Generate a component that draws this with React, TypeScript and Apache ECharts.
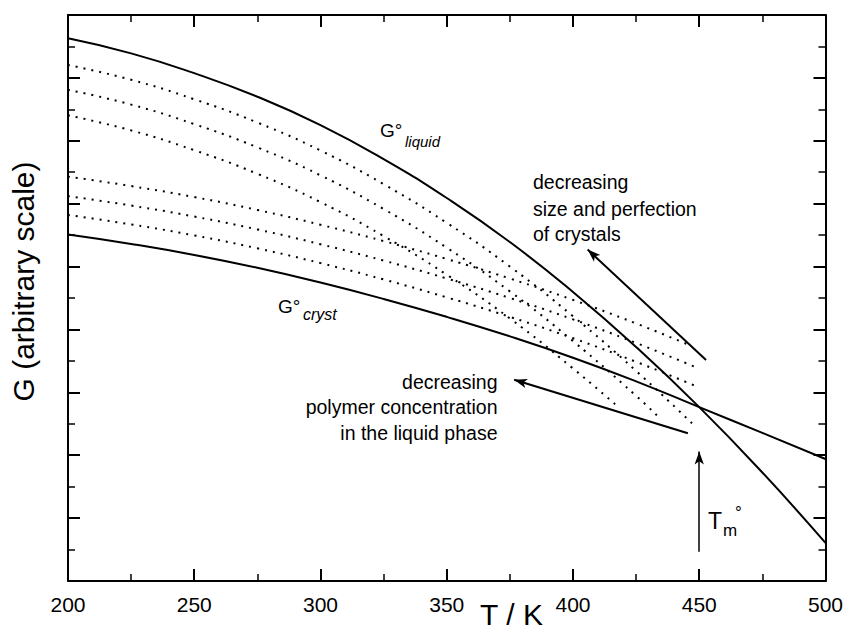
import { useEffect, useRef } from "react";
import * as echarts from "echarts";

// ---- data ----
const temps = [200, 225, 250, 275, 300, 325, 350, 375, 400, 425, 450, 475, 500];
const liquidG = [17.26, 16.78, 16.15, 15.4, 14.5, 13.42, 12.18, 10.78, 9.19, 7.44, 5.53, 3.45, 1.21];
const crystG = [11.02, 10.72, 10.37, 9.96, 9.49, 8.97, 8.4, 7.78, 7.1, 6.35, 5.53, 4.71, 3.88];

// liquid phase, decreasing polymer concentration (dotted)
const liqDot1T = [200, 225, 250, 275, 300, 325, 350, 375, 400, 425, 447.7];
const liqDot1 = [16.41, 15.94, 15.32, 14.58, 13.69, 12.62, 11.39, 10.0, 8.42, 6.68, 4.97];
const liqDot2T = [200, 225, 250, 275, 300, 325, 350, 375, 400, 425, 434.7];
const liqDot2 = [15.62, 15.15, 14.53, 13.79, 12.9, 11.83, 10.6, 9.21, 7.63, 5.89, 5.15];
const liqDot3T = [200, 225, 250, 275, 300, 325, 350, 375, 400, 418.4];
const liqDot3 = [14.81, 14.33, 13.7, 12.95, 12.05, 10.97, 9.74, 8.35, 6.76, 5.5];

// crystals of decreasing size and perfection (dotted)
const crysDot1T = [200, 225, 250, 275, 300, 325, 350, 375, 400, 425, 445];
const crysDot1 = [12.86, 12.56, 12.21, 11.8, 11.33, 10.81, 10.24, 9.62, 8.94, 8.19, 7.54];
const crysDot2T = [200, 225, 250, 275, 300, 325, 350, 375, 400, 425, 448];
const crysDot2 = [12.24, 11.94, 11.59, 11.18, 10.71, 10.19, 9.62, 9.0, 8.32, 7.57, 6.82];
const crysDot3T = [200, 225, 250, 275, 300, 325, 350, 375, 400, 425, 448];
const crysDot3 = [11.64, 11.34, 10.99, 10.58, 10.11, 9.59, 9.02, 8.4, 7.72, 6.97, 6.22];

// arrows [from, to] in data coordinates
const arrowSize = [[452.7, 7.03], [405.8, 10.54]];
const arrowConc = [[445.5, 4.7], [376.7, 6.4]];
const arrowTm = [[450, 0.93], [450, 4.12]];

const xMin = 200;
const xMax = 500;
const xStep = 50;
const yMin = 0;
const yMax = 18;
const yStep = 2;

const FONT = '"Liberation Sans", Arial, Helvetica, sans-serif';

const pairs = (xs: number[], ys: number[]) => xs.map((x, i) => [x, ys[i]]);

const solid = (name: string, xs: number[], ys: number[]) => ({
  name,
  type: "line",
  data: pairs(xs, ys),
  smooth: true,
  showSymbol: false,
  symbol: "none",
  lineStyle: { color: "#000", width: 2 },
  silent: true,
});

const dotted = (name: string, xs: number[], ys: number[]) => ({
  name,
  type: "line",
  data: pairs(xs, ys),
  smooth: true,
  showSymbol: false,
  symbol: "none",
  lineStyle: { color: "#000", width: 2, type: [2, 6], cap: "butt" },
  silent: true,
});

const arrow = (coords: number[][], width: number) => ({
  type: "lines",
  coordinateSystem: "cartesian2d",
  xAxisIndex: 0,
  yAxisIndex: 0,
  symbol: ["none", "arrow"],
  symbolSize: [[7, 13], [7, 13]],
  lineStyle: { color: "#000", width, opacity: 1 },
  itemStyle: { color: "#000" },
  silent: true,
  data: [{ coords }],
});

const xAxisBase = (position: string, showLabel: boolean) => ({
  type: "value",
  position,
  min: xMin,
  max: xMax,
  interval: xStep,
  axisLine: { show: true, onZero: false, lineStyle: { color: "#000", width: 2 } },
  axisTick: { show: true, inside: true, length: 12, lineStyle: { color: "#000", width: 2 } },
  minorTick: { show: true, splitNumber: 2, length: 7, lineStyle: { color: "#000", width: 1.5 } },
  splitLine: { show: false },
  axisLabel: {
    show: showLabel,
    color: "#000",
    fontSize: 21,
    fontFamily: FONT,
    margin: 13,
  },
});

const yAxisBase = (position: string) => ({
  type: "value",
  position,
  min: yMin,
  max: yMax,
  interval: yStep,
  axisLine: { show: true, onZero: false, lineStyle: { color: "#000", width: 2 } },
  axisTick: { show: true, inside: true, length: 12, lineStyle: { color: "#000", width: 2 } },
  minorTick: { show: true, splitNumber: 2, length: 7, lineStyle: { color: "#000", width: 1.5 } },
  splitLine: { show: false },
  axisLabel: { show: false },
});

const txt = (
  text: string,
  x: number,
  y: number,
  fontSize: number,
  align: string = "left",
  fontStyle: string = "normal",
  rotation: number = 0
) => ({
  type: "text",
  x,
  y,
  rotation,
  silent: true,
  style: {
    text,
    fill: "#000",
    fontSize,
    fontFamily: FONT,
    fontStyle,
    align,
    verticalAlign: "middle",
  },
});

export default function App() {
  const ref = useRef<HTMLDivElement>(null);

  useEffect(() => {
    if (!ref.current) return;
    const chart = echarts.init(ref.current, null, { renderer: "svg" });
    chart.setOption({
      animation: false,
      backgroundColor: "#fff",
      grid: { left: 68, right: 20, top: 15, bottom: 56, containLabel: false },
      xAxis: [xAxisBase("bottom", true), xAxisBase("top", false)],
      yAxis: [yAxisBase("left"), yAxisBase("right")],
      series: [
        solid("G liquid", temps, liquidG),
        solid("G cryst", temps, crystG),
        dotted("liquid 1", liqDot1T, liqDot1),
        dotted("liquid 2", liqDot2T, liqDot2),
        dotted("liquid 3", liqDot3T, liqDot3),
        dotted("cryst 1", crysDot1T, crysDot1),
        dotted("cryst 2", crysDot2T, crysDot2),
        dotted("cryst 3", crysDot3T, crysDot3),
        arrow(arrowSize, 2),
        arrow(arrowConc, 2),
        arrow(arrowTm, 1.5),
      ],
      graphic: [
        txt("G (arbitrary scale)", 23.5, 281.5, 30, "center", "normal", Math.PI / 2),
        txt("T / K", 511.5, 614, 30, "center"),
        txt("G°", 380, 130.5, 19),
        txt("liquid", 405, 141.5, 15, "left", "italic"),
        txt("G°", 278, 306.5, 19),
        txt("cryst", 303, 314.5, 16, "left", "italic"),
        txt("decreasing", 533, 182, 19.5),
        txt("size and perfection", 533, 208.5, 19.5),
        txt("of crystals", 533, 233.5, 19.5),
        txt("decreasing", 497.5, 382, 19.5, "right"),
        txt("polymer concentration", 497.5, 407, 19.5, "right"),
        txt("in the liquid phase", 497.5, 432.5, 19.5, "right"),
        txt("T", 708, 521, 23),
        txt("m", 723, 530, 17),
        txt("°", 735, 512.5, 17),
      ],
    });
    return () => chart.dispose();
  }, []);

  return (
    <div
      ref={ref}
      style={{ position: "fixed", left: 0, top: 0, width: 846, height: 637, background: "#fff" }}
    />
  );
}
